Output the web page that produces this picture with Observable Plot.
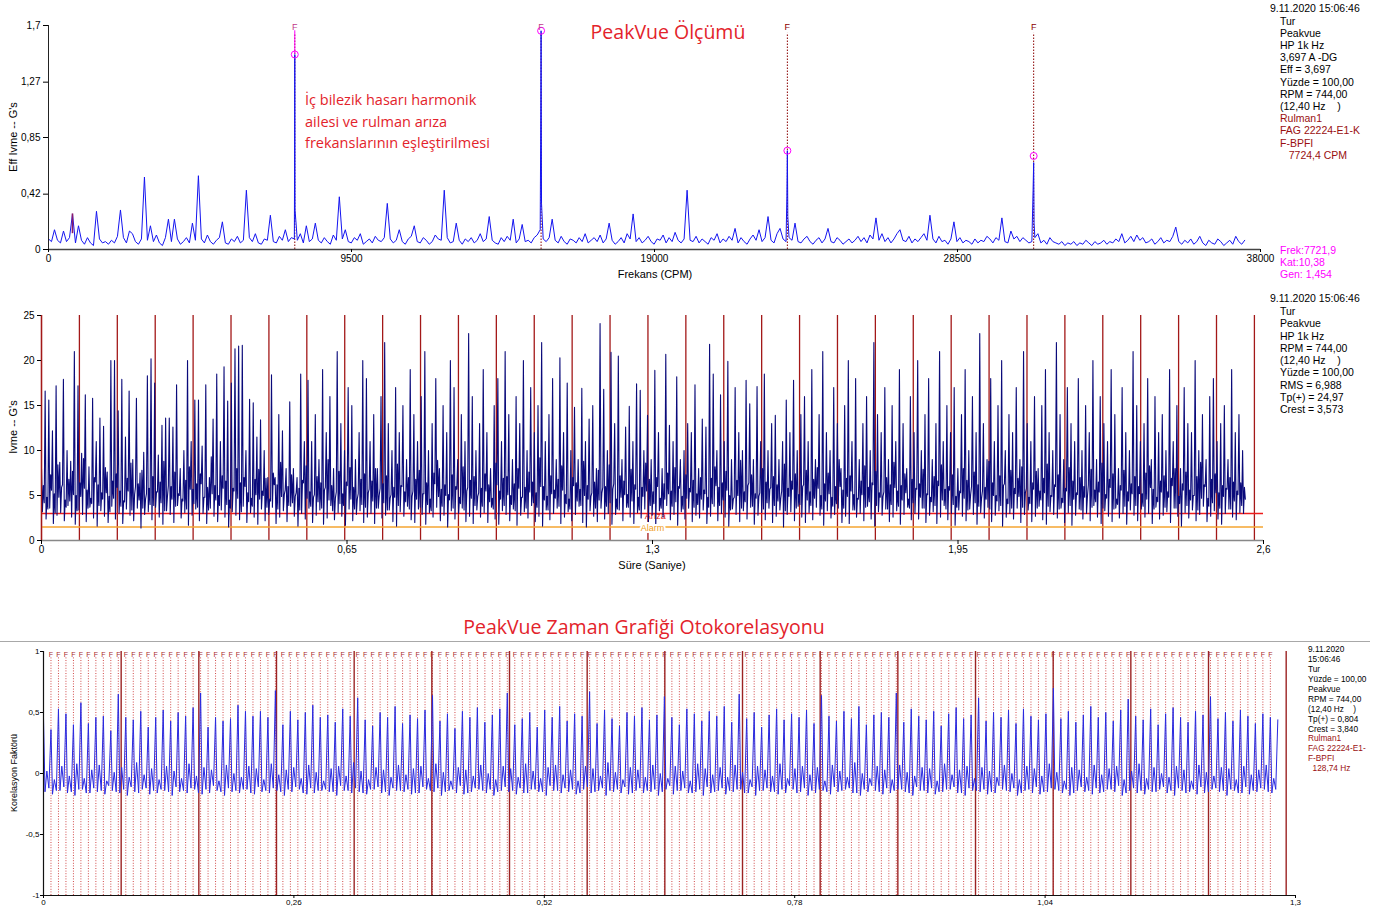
<!DOCTYPE html>
<html><head><meta charset="utf-8">
<script src="https://cdn.jsdelivr.net/npm/d3@7"></script>
<script src="https://cdn.jsdelivr.net/npm/@observablehq/plot@0.6"></script>
<style>
html,body{margin:0;padding:0;background:#fff;}
#root{position:relative;width:1382px;height:912px;overflow:hidden;background:#fff;font-family:"Liberation Sans",Arial,sans-serif;}
.abs{position:absolute;white-space:pre;line-height:1;}
svg{overflow:visible;}
</style></head><body><div id="root"></div>
<script>
// ---------------- DATA ----------------
// Spectrum (PeakVue), line spacing in CPM and amplitudes (G's)
const SPEC_DF = 94;
const specNoise = [
0.08,0.06,0.15,0.07,0.05,0.14,0.06,0.09,0.27,0.05,0.18,0.07,0.04,0.09,0.05,0.03,0.29,0.08,0.05,0.06,
0.04,0.07,0.05,0.10,0.30,0.09,0.05,0.14,0.12,0.06,0.04,0.08,0.55,0.07,0.18,0.06,0.11,0.05,0.03,0.09,
0.23,0.06,0.23,0.08,0.04,0.06,0.09,0.05,0.20,0.07,0.56,0.08,0.05,0.11,0.06,0.04,0.07,0.09,0.21,0.05,
0.04,0.08,0.06,0.10,0.05,0.07,0.45,0.09,0.06,0.12,0.05,0.04,0.08,0.07,0.26,0.06,0.05,0.10,0.07,0.15,
0.06,0.09,0.08,0.07,0.12,0.05,0.18,0.06,0.08,0.20,0.07,0.05,0.09,0.06,0.04,0.11,0.07,0.40,0.08,0.15,
0.06,0.05,0.09,0.07,0.12,0.04,0.06,0.08,0.05,0.10,0.07,0.06,0.09,0.35,0.08,0.05,0.07,0.15,0.06,0.04,
0.08,0.10,0.18,0.06,0.05,0.09,0.07,0.04,0.06,0.11,0.08,0.07,0.45,0.09,0.05,0.06,0.20,0.07,0.04,0.08,
0.06,0.09,0.05,0.07,0.12,0.06,0.08,0.25,0.07,0.05,0.04,0.09,0.06,0.10,0.07,0.23,0.05,0.08,0.19,0.06,
0.07,0.05,0.09,0.11,0.15,0.08,0.06,0.09,0.23,0.07,0.05,0.10,0.06,0.04,0.08,0.07,0.05,0.09,0.06,0.12,
0.05,0.07,0.09,0.06,0.11,0.05,0.08,0.20,0.07,0.04,0.06,0.09,0.05,0.12,0.08,0.27,0.06,0.09,0.05,0.07,
0.10,0.06,0.04,0.08,0.07,0.11,0.05,0.09,0.06,0.13,0.07,0.05,0.08,0.45,0.07,0.06,0.10,0.05,0.08,0.06,
0.04,0.09,0.07,0.12,0.05,0.08,0.06,0.10,0.07,0.16,0.05,0.09,0.06,0.04,0.08,0.11,0.07,0.15,0.06,0.09,
0.25,0.07,0.05,0.12,0.16,0.08,0.06,0.09,0.07,0.20,0.06,0.05,0.08,0.10,0.06,0.04,0.07,0.09,0.05,0.08,
0.16,0.06,0.05,0.09,0.07,0.04,0.06,0.08,0.05,0.07,0.10,0.06,0.09,0.05,0.11,0.08,0.24,0.07,0.12,0.06,
0.09,0.05,0.08,0.12,0.15,0.07,0.06,0.10,0.05,0.08,0.06,0.09,0.12,0.07,0.26,0.08,0.05,0.10,0.06,0.07,
0.04,0.08,0.21,0.06,0.09,0.05,0.07,0.06,0.04,0.08,0.05,0.07,0.06,0.10,0.08,0.05,0.09,0.07,0.24,0.06,
0.05,0.14,0.08,0.10,0.06,0.09,0.07,0.05,0.06,0.09,0.12,0.05,0.07,0.04,0.09,0.06,0.05,0.04,0.06,0.03,
0.05,0.04,0.06,0.03,0.05,0.04,0.07,0.05,0.03,0.06,0.04,0.05,0.07,0.04,0.06,0.05,0.08,0.06,0.12,0.05,
0.07,0.10,0.06,0.11,0.07,0.09,0.05,0.06,0.08,0.04,0.06,0.09,0.05,0.07,0.06,0.10,0.17,0.06,0.04,0.07,
0.05,0.08,0.04,0.06,0.10,0.05,0.03,0.07,0.05,0.04,0.08,0.06,0.03,0.05,0.07,0.04,0.10,0.06,0.04,0.07
];
// BPFI harmonic spikes: [CPM, G's]
const specPeaks = [
[7715,0.62],[7722,1.48],[7730,0.30],
[15430,0.80],[15444,1.66],[15458,0.35],
[23150,0.40],[23166,0.75],[23180,0.25],
[30870,0.45],[30888,0.66],[30900,0.20]
];
const bpfiHarmonics = [7722, 15444, 23166, 30888];
const markerAmps = [1.48, 1.66, 0.75, 0.71];
const runSpeedLine = 752;      // 1x peak (CPM)
const runSpeedAmp = 0.27;
const topXTicks = [0, 9500, 19000, 28500, 38000];
const topYTicks = [0, 0.42, 0.85, 1.27, 1.7];

// Time waveform (G's), per BPFI period: peak, low, mid, mid2
const BPFI_HZ = 128.74;
const RUN_HZ = 12.40;
const wfPeak = [
8,16.6,15.6,12.2,17.2,8.7,17.9,10,8.8,21,17.2,9.7,16.2,8.2,15.8,11,13.6,12.7,7.6,20,
20,14.4,17.9,11.5,16.6,9,15.8,7.5,9.8,18.3,20.2,17.5,9.5,12.8,13.6,13.6,12.6,17.3,8,10,
20,11,15.6,15.6,10.5,17.3,7,13.5,18.5,11,19.3,15.5,17.5,21.3,21.6,21.7,10,15.7,15.3,11.5,
13.4,10,7,18.4,7,14,12.2,8,15.4,8,7,18.5,11,17.8,11,
14,9,19,12,16,8,21,13,10,17,15,9,12,20,18,11,14,8,16,22,
13,10,17,12,15,9,19,14,11,16,21,10,13,18,8,15,12,20,17,9,
14,11,23,16,10,13,19,12,8,15,18,11,21,14,9,16,13,20,10,17,
12,15,22,11,14,18,9,
20.3,12,17.5,10,14.8,9,16.9,11,13.5,15,8,24.1,16.8,10,20.9,13,20.5,9,12.6,14.9,
11,17.4,16.7,10,13.9,9,18.9,12,8,20.7,12.8,11,18.2,9,10,13,12,17.3,8,13.5,
12.6,21.8,18.5,10,16.2,11,19.9,9,17,12,10,17.8,15.2,9,17.1,11,18.5,10,13,13.9,
9,11,15.6,12,17.8,10,14,
16,11,19,9,14,21,12,10,17,13,8,15,20,11,18,9,13,16,10,22,
14,12,17,9,15,11,19,13,8,16,12,20,10,14,18,9,13,21,11,15,
12,17,8,14,19,10,16,12,23,13,9,18,11,15,20,10,14,12,17,9,
21,13,11,16,8,15,19,12,10,22,14,9,17,13,11,18,10,15,12,20,
9,16,13,11,19,14,8,17,12,10,21,15,11,13,18,9,16,12,14,10,
19,11,15,8,17,13,12,20,10,14,9,16,18,11,13,15,9,19,12,14,10
];
const wfLow = [
3.2,2.4,3.6,1.9,2.8,3.1,2.2,3.9,2.6,1.8,3.4,2.9,2.1,3.7,2.5,1.6,3.3,2.7,2.0,3.8,2.4,3.0,1.9,3.5,2.8,2.2,3.6,1.4,2.9,3.2,
2.3,3.7,2.6,1.8,3.3,2.9,2.0,3.9,2.5,3.1,1.7,2.8,3.5,2.2,3.0,1.9,3.6,2.7,2.1,3.4,2.6,1.5,3.2,2.8,2.3,3.8,2.0,3.1,2.6,1.8,
3.5,2.2,2.9,3.7,1.9,2.6,3.3,2.1,3.8,2.7,1.6,3.0,2.4,3.6,2.0,2.8,3.4,1.8,2.5,3.9,2.3,3.1,2.7,1.7,3.5,2.2,2.9,3.3,2.0,2.6,
3.0,1.9,3.6,2.5,2.8,3.4,2.1,1.6,3.2,2.7,3.8,2.3,2.0,3.5,2.9,1.8,3.1,2.6,3.7,2.2,2.8,1.5,3.3,2.4,3.0,3.6,2.1,2.7,1.9,3.4,
2.6,3.1,2.0,3.7,2.4,1.8,3.3,2.9,2.2,3.5,1.7,2.8,3.2,2.5,3.9,2.1,2.7,1.6,3.4,2.3,3.0,3.6,1.9,2.6,3.2,2.2,2.9,3.8,2.0,1.5,
3.3,2.7,2.1,3.6,2.4,3.0,1.8,2.9,3.4,2.2,3.7,2.6,1.9,3.1,2.5,3.5,2.0,2.8,1.4,3.3,2.6,3.9,2.3,2.9,1.7,3.2,2.4,3.6,2.1,2.8,
2.5,3.4,1.9,2.7,3.8,2.2,3.0,2.6,1.6,3.5,2.9,2.1,3.3,2.4,3.7,1.8,2.8,3.1,2.3,3.6,2.0,2.7,3.4,1.5,2.9,3.2,2.2,3.8,2.6,2.0,
3.1,2.3,3.7,2.8,1.7,3.3,2.5,2.9,3.6,2.0,2.7,1.9,3.4,2.6,3.0,2.2,3.8,2.4,1.6,3.2,2.8,3.5,2.1,2.6,3.3,1.8,2.9,3.7,2.3,3.0,
2.4,3.6,2.0,2.8,3.2,1.9,2.6,3.9,2.3,3.0,1.7,3.4,2.7,2.2,3.5,2.9,1.8,3.1,2.5,3.7,2.1,2.8,3.3,1.6,2.6,3.0,2.4,3.6,2.0,2.9,
3.4,2.1,2.7,3.8,2.3,1.8,3.2,2.9,2.5,3.6,2.0,3.1,1.7,2.8,3.5,2.4,3.0,2.2,3.9,2.6,1.9,3.3,2.7,2.1,3.6,2.5,3.0,1.8,3.4,2.8,
2.2,3.5,2.6,3.0,1.9,3.7,2.4,2.8,3.2,2.0,3.6,2.7,1.6,3.1,2.5,3.4,2.2,2.9,3.8,2.1,2.7,3.3,2.4,1.8,3.0,3.5,2.6,2.3,3.1,3.0
];
const wfMid = [
6.1,4.8,7.3,5.2,8.4,5.9,4.5,6.8,7.7,5.0,6.4,9.1,5.6,4.7,7.0,6.2,5.3,8.1,4.9,6.6,7.4,5.5,4.4,6.9,8.6,5.1,6.3,7.8,4.6,5.8,
7.1,5.4,6.5,8.8,4.9,6.0,7.6,5.2,4.6,6.7,8.2,5.7,6.3,7.4,4.8,5.9,9.3,6.1,5.0,7.2,6.6,4.5,5.8,8.0,6.4,7.0,5.3,4.7,6.8,7.9,
5.5,6.9,4.6,7.5,6.2,8.7,5.1,6.0,7.3,4.9,5.8,6.7,8.3,5.4,4.8,7.1,6.4,5.6,9.0,6.1,4.7,7.7,5.2,6.5,8.1,5.9,4.6,6.8,7.4,5.3,
6.6,8.0,5.0,6.3,7.2,4.7,5.9,8.5,6.1,5.4,7.0,4.9,6.8,7.8,5.2,6.4,4.6,7.5,8.9,5.7,6.2,5.1,7.3,6.0,4.8,8.2,5.5,6.7,7.1,4.9,
5.8,7.4,6.2,4.7,8.6,5.5,6.9,7.1,5.0,6.3,8.0,4.8,5.9,7.6,6.5,5.3,9.2,6.0,4.9,7.2,5.6,6.8,8.3,5.1,4.6,7.0,6.4,5.7,8.8,6.1,
4.9,6.5,7.8,5.3,6.0,8.4,5.7,4.6,7.2,6.6,5.1,7.9,6.2,4.8,5.9,8.6,6.8,5.4,7.0,4.7,6.3,7.5,5.5,8.1,6.0,4.9,7.3,5.8,6.7,5.2,
7.0,5.6,4.8,6.9,8.2,5.9,6.4,7.7,5.0,4.6,6.7,8.9,5.4,6.1,7.3,5.2,4.9,8.0,6.5,5.7,7.1,6.2,4.7,8.5,5.8,6.6,7.4,5.1,6.0,7.8,
5.4,6.8,8.1,5.0,6.3,7.5,4.8,6.0,9.0,5.6,6.9,7.2,5.1,4.7,6.6,8.3,5.9,6.4,7.7,5.3,4.9,7.0,6.2,8.7,5.5,6.1,7.4,4.6,6.8,5.8,
6.3,7.9,5.2,4.8,7.1,6.6,8.4,5.7,6.0,7.3,4.9,5.5,8.0,6.7,5.1,7.6,6.2,4.7,5.9,8.8,6.4,5.0,7.2,6.1,4.6,7.8,5.8,6.9,8.2,5.3,
4.8,6.4,7.7,5.5,6.9,8.5,5.0,6.2,7.3,4.7,5.8,8.1,6.6,5.3,7.0,6.0,4.9,7.9,5.6,6.5,8.6,5.1,6.8,7.4,4.6,6.1,7.8,5.4,6.3,7.1,
6.0,5.2,7.5,8.3,5.7,4.8,6.6,7.2,5.4,6.9,8.0,4.9,6.3,7.6,5.6,5.0,7.1,8.7,6.2,4.7,6.8,7.4,5.3,6.1,5.8,7.0,6.5,5.5,6.4,5.9
];
const wfMid2 = [
4.2,3.5,5.6,3.1,4.8,6.2,3.7,4.4,5.1,3.3,4.9,5.8,3.6,4.1,6.5,3.9,4.6,5.3,3.2,4.7,5.9,3.8,4.3,5.5,3.4,6.0,4.5,3.6,5.2,4.0,
3.9,5.4,4.2,3.3,6.1,4.6,3.8,5.0,4.4,3.5,5.7,4.1,3.7,6.3,4.8,3.4,5.2,4.5,3.9,5.8,4.0,3.6,5.5,4.7,3.2,6.0,4.3,3.8,5.1,4.6,
5.0,3.7,4.4,6.2,3.5,4.9,5.6,3.9,4.2,5.3,3.4,6.4,4.7,3.8,5.1,4.3,3.6,5.9,4.5,3.3,5.4,4.1,3.9,6.1,4.6,3.5,5.2,4.0,3.7,5.7,
4.4,3.6,5.8,4.2,3.4,5.1,4.8,3.9,6.0,4.3,3.5,5.5,4.6,3.7,5.2,4.0,3.3,6.3,4.9,3.8,5.0,4.5,3.6,5.7,4.1,3.4,5.9,4.7,3.9,5.3,
3.8,5.5,4.3,3.5,6.2,4.6,3.9,5.1,4.0,3.3,5.8,4.8,3.6,5.4,4.2,3.7,6.0,4.5,3.4,5.2,4.7,3.8,5.6,4.1,3.5,6.1,4.4,3.9,5.0,4.6,
5.3,3.6,4.5,5.9,3.8,4.2,6.3,3.5,4.8,5.1,3.7,4.4,5.7,3.4,4.9,5.5,3.9,4.1,6.0,3.6,4.6,5.2,3.8,4.3,5.8,3.5,4.7,5.4,3.7,4.0,
4.6,5.2,3.7,4.1,6.1,3.9,4.5,5.6,3.4,4.8,5.0,3.6,4.3,6.4,3.8,4.7,5.3,3.5,4.2,5.9,3.9,4.4,5.5,3.3,4.9,5.7,3.6,4.0,6.2,4.5,
3.9,4.7,5.8,3.5,4.4,5.2,3.8,4.1,6.0,3.6,4.9,5.5,3.4,4.6,5.1,3.7,4.3,6.2,3.9,4.8,5.4,3.5,4.0,5.9,3.8,4.5,5.3,3.6,4.2,5.7,
4.8,3.6,5.1,4.3,3.9,6.1,4.5,3.5,5.6,4.0,3.7,5.3,4.7,3.4,6.0,4.2,3.8,5.5,4.6,3.5,5.0,4.4,3.9,6.3,4.1,3.6,5.2,4.9,3.7,5.8,
4.1,5.7,3.6,4.5,5.3,3.8,4.9,6.0,3.5,4.2,5.5,3.9,4.6,5.1,3.4,4.8,6.2,3.7,4.3,5.4,3.6,4.7,5.9,3.5,4.0,5.6,3.8,4.4,5.2,3.9,
5.2,3.8,4.6,5.9,3.5,4.3,5.4,3.7,4.8,6.1,3.6,4.1,5.6,3.9,4.5,5.0,3.4,4.7,6.0,3.8,4.2,5.3,3.6,4.9,5.7,3.5,4.4,5.1,3.9,4.6
];
const alarmLevels = [{v: 3, name: "Arıza"}, {v: 1.5, name: "Alarm"}];
const midXTicks = [0, 0.65, 1.3, 1.95, 2.6];
const midYTicks = [0, 5, 10, 15, 20, 25];

// Autocorrelation, per BPFI period: peak, low, mid, low2
const acPeak = [
0.46,0.36,0.53,0.49,0.40,0.58,0.41,0.46,0.47,0.35,
0.65,0.46,0.44,0.51,0.38,0.46,0.52,0.43,0.50,0.47,
0.54,0.66,0.38,0.46,0.43,0.45,0.56,0.51,0.47,0.51,
0.46,0.68,0.40,0.51,0.44,0.50,0.56,0.46,0.48,0.42,
0.53,0.47,0.62,0.44,0.39,0.50,0.46,0.55,0.41,0.48,
0.45,0.52,0.64,0.43,0.49,0.37,0.51,0.46,0.54,0.42,
0.48,0.53,0.66,0.40,0.45,0.50,0.38,0.52,0.46,0.55,
0.43,0.49,0.47,0.67,0.41,0.52,0.45,0.39,0.50,0.47,
0.54,0.44,0.48,0.63,0.46,0.40,0.53,0.49,0.43,0.51,
0.47,0.55,0.42,0.65,0.45,0.50,0.38,0.48,0.53,0.44,
0.49,0.46,0.52,0.41,0.64,0.47,0.43,0.51,0.45,0.55,
0.40,0.48,0.50,0.46,0.66,0.42,0.53,0.47,0.44,0.51,
0.39,0.49,0.54,0.45,0.48,0.62,0.43,0.50,0.46,0.52,
0.41,0.53,0.47,0.44,0.49,0.70,0.45,0.51,0.42,0.48,
0.55,0.46,0.50,0.43,0.52,0.61,0.47,0.44,0.53,0.40,
0.49,0.54,0.46,0.42,0.51,0.48,0.63,0.45,0.50,0.43,
0.52,0.47,0.41,0.49,0.46,0.44
];
const acLow = [
-0.15,-0.17,-0.14,-0.16,-0.18,-0.13,-0.16,-0.15,-0.17,-0.14,
-0.16,-0.18,-0.15,-0.13,-0.17,-0.16,-0.14,-0.18,-0.15,-0.16,
-0.13,-0.17,-0.16,-0.14,-0.18,-0.15,-0.16,-0.13,-0.17,-0.15,
-0.16,-0.14,-0.18,-0.15,-0.13,-0.17,-0.16,-0.14,-0.15,-0.18,
-0.14,-0.16,-0.15,-0.17,-0.13,-0.16,-0.18,-0.14,-0.15,-0.17,
-0.16,-0.13,-0.15,-0.18,-0.14,-0.16,-0.17,-0.15,-0.13,-0.16,
-0.18,-0.14,-0.15,-0.17,-0.16,-0.13,-0.15,-0.18,-0.14,-0.16,
-0.15,-0.17,-0.13,-0.16,-0.14,-0.18,-0.15,-0.16,-0.17,-0.14,
-0.16,-0.15,-0.18,-0.13,-0.17,-0.14,-0.16,-0.15,-0.18,-0.16,
-0.14,-0.17,-0.15,-0.13,-0.16,-0.18,-0.14,-0.15,-0.17,-0.16,
-0.13,-0.15,-0.18,-0.16,-0.14,-0.17,-0.15,-0.13,-0.16,-0.18,
-0.15,-0.14,-0.17,-0.16,-0.13,-0.15,-0.18,-0.14,-0.16,-0.17,
-0.15,-0.13,-0.16,-0.18,-0.14,-0.15,-0.17,-0.16,-0.13,-0.15,
-0.18,-0.14,-0.16,-0.17,-0.15,-0.13,-0.16,-0.18,-0.14,-0.15,
-0.17,-0.16,-0.13,-0.15,-0.18,-0.14,-0.16,-0.17,-0.15,-0.13,
-0.16,-0.18,-0.14,-0.15,-0.17,-0.16,-0.13,-0.15,-0.18,-0.14,
-0.16,-0.17,-0.15,-0.13,-0.16,-0.18
];
const acMid = [
0.02,-0.05,0.06,-0.02,0.08,-0.04,0.03,0.07,-0.06,0.01,
0.05,-0.03,0.09,-0.01,0.04,-0.05,0.06,0.02,-0.04,0.08,
-0.02,0.05,0.03,-0.06,0.07,0.00,-0.03,0.06,0.04,-0.05,
0.08,-0.01,0.03,0.05,-0.04,0.07,0.01,-0.06,0.04,0.06,
-0.02,0.09,0.02,-0.05,0.05,0.03,-0.03,0.07,-0.01,0.04,
0.06,-0.04,0.08,0.01,-0.06,0.05,0.03,-0.02,0.07,0.00,
-0.05,0.06,0.04,-0.03,0.08,0.02,-0.04,0.05,0.07,-0.01,
0.03,-0.06,0.06,0.04,-0.02,0.09,0.01,-0.05,0.05,0.03,
-0.03,0.07,0.00,-0.04,0.06,0.02,-0.06,0.08,0.04,-0.01,
0.05,-0.03,0.07,0.01,-0.05,0.06,0.03,-0.02,0.08,-0.04,
0.04,0.06,-0.01,0.05,-0.06,0.07,0.02,-0.03,0.09,0.00,
-0.04,0.06,0.03,-0.05,0.07,0.01,-0.02,0.05,0.04,-0.06,
0.08,-0.01,0.03,0.06,-0.04,0.05,0.02,-0.03,0.07,0.00,
-0.05,0.06,0.04,-0.02,0.08,0.01,-0.06,0.05,0.03,-0.03,
0.07,-0.01,0.04,0.06,-0.05,0.02,0.08,-0.04,0.05,0.00,
-0.03,0.06,0.03,-0.06,0.07,0.01,-0.02,0.05,0.04,-0.05,
0.06,-0.01,0.03,0.07,-0.04,0.02
];
const acLow2 = [
-0.12,-0.14,-0.11,-0.15,-0.13,-0.16,-0.12,-0.14,-0.10,-0.15,
-0.13,-0.11,-0.16,-0.12,-0.14,-0.13,-0.15,-0.11,-0.14,-0.12,
-0.16,-0.13,-0.10,-0.15,-0.12,-0.14,-0.13,-0.16,-0.11,-0.14,
-0.12,-0.15,-0.13,-0.11,-0.16,-0.12,-0.14,-0.13,-0.15,-0.10,
-0.14,-0.12,-0.16,-0.13,-0.11,-0.15,-0.12,-0.14,-0.13,-0.16,
-0.11,-0.14,-0.12,-0.15,-0.13,-0.10,-0.16,-0.12,-0.14,-0.13,
-0.15,-0.11,-0.14,-0.12,-0.16,-0.13,-0.15,-0.10,-0.14,-0.12,
-0.13,-0.16,-0.11,-0.15,-0.12,-0.14,-0.13,-0.11,-0.16,-0.12,
-0.14,-0.13,-0.15,-0.10,-0.14,-0.12,-0.16,-0.13,-0.11,-0.15,
-0.12,-0.14,-0.13,-0.16,-0.11,-0.14,-0.12,-0.15,-0.13,-0.10,
-0.16,-0.12,-0.14,-0.13,-0.15,-0.11,-0.14,-0.12,-0.16,-0.13,
-0.10,-0.15,-0.12,-0.14,-0.13,-0.16,-0.11,-0.14,-0.12,-0.15,
-0.13,-0.11,-0.16,-0.12,-0.14,-0.13,-0.15,-0.10,-0.14,-0.12,
-0.16,-0.13,-0.11,-0.15,-0.12,-0.14,-0.13,-0.16,-0.11,-0.14,
-0.12,-0.15,-0.13,-0.10,-0.16,-0.12,-0.14,-0.13,-0.15,-0.11,
-0.14,-0.12,-0.16,-0.13,-0.11,-0.15,-0.12,-0.14,-0.13,-0.16,
-0.11,-0.14,-0.12,-0.15,-0.13,-0.10
];
const acFCount = 164;   // BPFI markers shown
const acRunCount = 16;  // 1x markers shown
const botXTicks = [0, 0.26, 0.52, 0.78, 1.04, 1.3];
const botYTicks = [-1, -0.5, 0, 0.5, 1];

// Info panels
const infoTop = ["Tur","Peakvue","HP 1k Hz","3,697 A -DG","Eff = 3,697","Yüzde = 100,00","RPM = 744,00","(12,40 Hz    )"];
const infoTopRed = ["Rulman1","FAG 22224-E1-K","F-BPFI","   7724,4 CPM"];
const infoTopCursor = ["Frek:7721,9","Kat:10,38","Gen: 1,454"];
const infoMid = ["Tur","Peakvue","HP 1k Hz","RPM = 744,00","(12,40 Hz    )","Yüzde = 100,00","RMS = 6,988","Tp(+) = 24,97","Crest = 3,573"];
const infoBot = ["9.11.2020","15:06:46","Tur","Yüzde = 100,00","Peakvue","RPM = 744,00","(12,40 Hz    )","Tp(+) = 0,804","Crest = 3,840"];
const infoBotRed = ["Rulman1","FAG 22224-E1-","F-BPFI","  128,74 Hz"];
const stamp = "9.11.2020 15:06:46";

// ---------------- BUILD ----------------
const FONT = '"Liberation Sans", Arial, sans-serif';
const root = document.getElementById("root");
const fmt = d => String(d).replace(".", ",");
function place(el, left, top) {
  const d = document.createElement("div");
  d.style.position = "absolute"; d.style.left = left + "px"; d.style.top = top + "px";
  d.appendChild(el); root.appendChild(d);
}
function txt(text, x, y, o = {}) {
  const d = document.createElement("div");
  d.className = "abs"; d.textContent = text;
  Object.assign(d.style, {
    left: x + "px", top: y + "px", fontSize: (o.size || 10.5) + "px",
    color: o.color || "#000", fontFamily: o.font || FONT,
    transform: o.transform || "translate(0,-50%)"
  });
  root.appendChild(d);
}
const baseStyle = {fontFamily: FONT, fontSize: "10px", background: "transparent", overflow: "visible", color: "#000"};

// ---- Top: spectrum ----
const spectrum = specNoise.map((a, i) => ({f: i * SPEC_DF, a}))
  .concat(specPeaks.map(([f, a]) => ({f, a})))
  .sort((p, q) => p.f - q.f);
const markers = bpfiHarmonics.map((f, i) => ({f, a: markerAmps[i]}));

const topPlot = Plot.plot({
  width: 1270, height: 285, marginLeft: 48, marginRight: 10, marginTop: 25, marginBottom: 36,
  x: {domain: [0, 38000]}, y: {domain: [0, 1.7]},
  style: baseStyle,
  marks: [
    Plot.ruleX(bpfiHarmonics, {x: d => d, y1: 0, y2: 1.64, stroke: "#8b0000", strokeDasharray: "1.5,1.5"}),
    Plot.line(spectrum, {x: "f", y: "a", stroke: "#1414f0", strokeWidth: 1}),
    Plot.ruleX([runSpeedLine], {x: d => d, y1: 0.12, y2: runSpeedAmp, stroke: "#8a1a6a", strokeWidth: 1.6}),
    Plot.ruleX(markers.slice(0, 2), {x: "f", y1: "a", y2: 1.66, stroke: "#ff00ff", strokeWidth: 1}),
    Plot.dot(markers, {x: "f", y: "a", r: 3.5, stroke: "#ff00ff", fill: "none", strokeWidth: 1}),
    Plot.text(bpfiHarmonics.slice(0, 2), {x: d => d, y: () => 1.69, text: () => "F", fill: "#c03a8a", fontSize: 9}),
    Plot.text(bpfiHarmonics.slice(2), {x: d => d, y: () => 1.69, text: () => "F", fill: "#8b0000", fontSize: 9}),
    Plot.ruleY([0], {stroke: "#444", strokeWidth: 1.3}),
    Plot.ruleX([0], {stroke: "#222", strokeWidth: 1}),
    Plot.axisX({ticks: topXTicks, tickFormat: d => String(d), tickSize: 3, tickPadding: 2, label: null, fontSize: 10}),
    Plot.axisY({ticks: topYTicks, tickFormat: fmt, tickSize: 5, tickPadding: 3, label: null, fontSize: 10})
  ]
});
place(topPlot, 0, 0);

// ---- Middle: time waveform ----
const P = 1 / BPFI_HZ;
const wave = []
  .concat(wfPeak.map((v, k) => ({t: k * P, v})))
  .concat(wfLow.map((v, k) => ({t: (k + 0.25) * P, v})))
  .concat(wfMid.map((v, k) => ({t: (k + 0.5) * P, v})))
  .concat(wfMid2.map((v, k) => ({t: (k + 0.75) * P, v})))
  .filter(d => d.t <= 2.57)
  .sort((a, b) => a.t - b.t);
const runLinesMid = d3.range(0, 33).map(k => k / RUN_HZ);

const midPlot = Plot.plot({
  width: 1270, height: 290, marginLeft: 41, marginRight: 7, marginTop: 25, marginBottom: 40,
  x: {domain: [0, 2.6]}, y: {domain: [0, 25]},
  style: baseStyle,
  marks: [
    Plot.ruleX(runLinesMid, {x: d => d, y1: 0, y2: 25, stroke: "#a31818", strokeWidth: 1.3}),
    Plot.ruleY([alarmLevels[0]], {y: "v", x1: 0, x2: 2.6, stroke: "#ee1c1c", strokeWidth: 1.3}),
    Plot.ruleY([alarmLevels[1]], {y: "v", x1: 0, x2: 2.6, stroke: "#f5a431", strokeWidth: 1.3}),
    Plot.text([alarmLevels[0]], {x: () => 1.306, y: () => 2.75, text: "name", fill: "#e01515", fontSize: 9}),
    Plot.line(wave, {x: "t", y: "v", stroke: "#0a0a7a", strokeWidth: 1.1}),
    Plot.text([alarmLevels[1]], {x: () => 1.30, y: () => 1.35, text: "name", fill: "#f0a020", stroke: "white", strokeWidth: 4, fontSize: 9}),
    Plot.ruleY([0], {stroke: "#888", strokeWidth: 1.5}),
    Plot.ruleX([0], {y1: 0, y2: 25, stroke: "#a31818", strokeWidth: 1.3}),
    Plot.axisX({ticks: midXTicks, tickFormat: fmt, tickSize: 4, tickPadding: 1, label: null, fontSize: 10}),
    Plot.axisY({ticks: midYTicks, tickFormat: fmt, tickSize: 4, tickPadding: 3, label: null, fontSize: 10})
  ]
});
place(midPlot, 0, 290);

// ---- Bottom: autocorrelation ----
const ac = []
  .concat(acPeak.map((v, k) => ({t: k * P, v})))
  .concat(acLow.map((v, k) => ({t: (k + 0.2) * P, v})))
  .concat(acMid.map((v, k) => ({t: (k + 0.45) * P, v})))
  .concat(acLow2.map((v, k) => ({t: (k + 0.72) * P, v})))
  .filter(d => d.t <= 1.283)
  .sort((a, b) => a.t - b.t);
const fMarks = d3.range(1, acFCount + 1).map(k => k * P);
const runMarks = d3.range(1, acRunCount + 1).map(k => k / RUN_HZ);

const botPlot = Plot.plot({
  width: 1300, height: 272, marginLeft: 43, marginRight: 5, marginTop: 11, marginBottom: 17,
  x: {domain: [0, 1.3]}, y: {domain: [-1, 1]},
  style: {...baseStyle, fontSize: "8px"},
  marks: [
    Plot.ruleX(fMarks, {x: d => d, y1: -1, y2: 0.955, stroke: "#d04a4a", strokeDasharray: "1,1.6", strokeWidth: 1}),
    Plot.ruleX(runMarks, {x: d => d, y1: -1, y2: 1, stroke: "#9b2323", strokeWidth: 1.4}),
    Plot.text(fMarks, {x: d => d, y: () => 0.975, text: () => "F", fill: "#a82a2a", fontSize: 7}),
    Plot.line(ac, {x: "t", y: "v", stroke: "#2a2ae0", strokeWidth: 1}),
    Plot.ruleY([-1], {stroke: "#111", strokeWidth: 1.2}),
    Plot.ruleX([0], {y1: -1, y2: 1, stroke: "#111", strokeWidth: 1.2}),
    Plot.axisX({ticks: botXTicks, tickFormat: fmt, tickSize: 3, tickPadding: 1, label: null, fontSize: 8}),
    Plot.axisY({ticks: botYTicks, tickFormat: fmt, tickSize: 3, tickPadding: 1, label: null, fontSize: 8})
  ]
});
place(botPlot, 0, 640);

// separator line
const sep = document.createElement("div");
Object.assign(sep.style, {position: "absolute", left: "0px", top: "641px", width: "1370px", height: "1px", background: "#a8a8a8"});
root.appendChild(sep);

// ---- axis titles ----
txt("Frekans (CPM)", 655, 274, {size: 11, transform: "translate(-50%,-50%)"});
txt("Eff Ivme -- G's", 13, 137, {size: 11, transform: "translate(-50%,-50%) rotate(-90deg)"});
txt("Süre (Saniye)", 652, 565, {size: 11, transform: "translate(-50%,-50%)"});
txt("Ivme -- G's", 13, 427, {size: 11, transform: "translate(-50%,-50%) rotate(-90deg)"});
txt("Korelasyon Faktörü", 14, 773, {size: 9, transform: "translate(-50%,-50%) rotate(-90deg)"});

// ---- annotations ----
const RED = "#e3232b", ANN = '"Open Sans", "Noto Sans", sans-serif';
txt("PeakVue Ölçümü", 668, 32, {size: 19.5, color: RED, font: ANN, transform: "translate(-50%,-50%)"});
["İç bilezik hasarı harmonik", "ailesi ve rulman arıza", "frekanslarının eşleştirilmesi"]
  .forEach((s, i) => txt(s, 305, 100 + i * 21.5, {size: 14.5, color: RED, font: ANN}));
txt("PeakVue Zaman Grafiği Otokorelasyonu", 644, 627, {size: 19.5, color: RED, font: ANN, transform: "translate(-50%,-50%)"});

// ---- info panels ----
const DR = "#9a1010";
txt(stamp, 1270, 8);
infoTop.forEach((s, i) => txt(s, 1280, 21 + i * 12.1));
infoTopRed.forEach((s, i) => txt(s, 1280, 118 + i * 12.3, {color: DR}));
infoTopCursor.forEach((s, i) => txt(s, 1280, 250 + i * 12, {color: "#ff00ff"}));
txt(stamp, 1270, 298);
infoMid.forEach((s, i) => txt(s, 1280, 311 + i * 12.25));
infoBot.forEach((s, i) => txt(s, 1308, 649 + i * 9.95, {size: 8.3}));
infoBotRed.forEach((s, i) => txt(s, 1308, 738 + i * 10, {size: 8.3, color: DR}));
</script></body></html>
